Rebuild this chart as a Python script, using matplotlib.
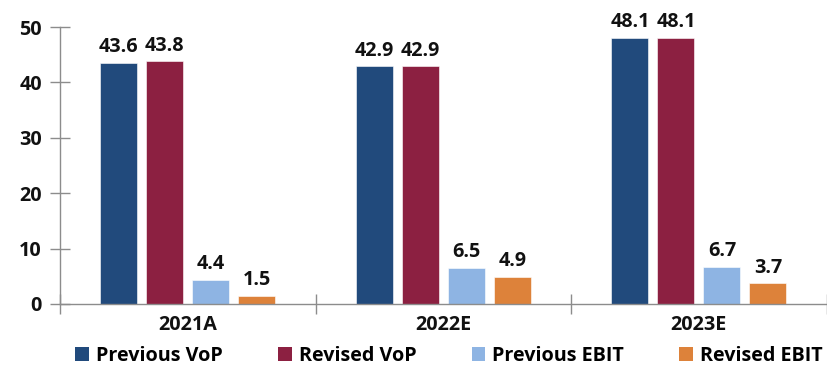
import matplotlib
matplotlib.use("Agg")
import matplotlib.pyplot as plt
import numpy as np
from matplotlib.patches import Patch

categories = ["2021A", "2022E", "2023E"]
series_names = ["Previous VoP", "Revised VoP", "Previous EBIT", "Revised EBIT"]
previous_vop = [43.6, 42.9, 48.1]
revised_vop = [43.8, 42.9, 48.1]
previous_ebit = [4.4, 6.5, 6.7]
revised_ebit = [1.5, 4.9, 3.7]
colors = ["#214A7C", "#8C2041", "#8EB4E3", "#DD823A"]

plt.rcParams["font.family"] = ["Open Sans", "DejaVu Sans"]
plt.rcParams["font.weight"] = "bold"
FS = 14.2

fig = plt.figure(figsize=(8.27, 3.67), dpi=100)
ax = fig.add_axes([0.0726, 0.1717, 0.927, 0.7545])

x = np.arange(len(categories))
width = 0.145
step = 0.18
offsets = (np.arange(4) - 1.5) * step
all_series = [previous_vop, revised_vop, previous_ebit, revised_ebit]

for vals, off, col, name in zip(all_series, offsets, colors, series_names):
    bars = ax.bar(x + off, vals, width, color=col, label=name,
                  edgecolor="white", linewidth=0.4)
    for b, v in zip(bars, vals):
        ax.annotate(f"{v:.1f}", (b.get_x() + b.get_width() / 2, v),
                    xytext=(0, 4), textcoords="offset points",
                    ha="center", va="bottom", fontsize=FS, fontweight="bold",
                    color="#111111")

ax.set_xlim(-0.5, 2.5)
ax.set_ylim(0, 50)
ax.set_yticks([0, 10, 20, 30, 40, 50])
ax.set_xticks([-0.5, 0.5, 1.5, 2.5], minor=False)
ax.set_xticklabels([])
ax.set_xticks(x, minor=True)
ax.set_xticklabels(categories, minor=True)
ax.tick_params(axis="x", which="major", direction="inout", length=14,
               color="#8C8C8C", width=1)
ax.tick_params(axis="x", which="minor", length=0, pad=8, labelsize=FS)
ax.tick_params(axis="y", direction="inout", length=14, color="#8C8C8C",
               width=1, labelsize=FS, pad=6)
for lbl in ax.get_xticklabels(minor=True) + ax.get_yticklabels():
    lbl.set_fontweight("bold")
    lbl.set_color("#111111")

for s in ["top", "right"]:
    ax.spines[s].set_visible(False)
for s in ["left", "bottom"]:
    ax.spines[s].set_color("#8C8C8C")
    ax.spines[s].set_linewidth(1)

handles = [Patch(facecolor=c, edgecolor="none") for c in colors]
fig.legend(handles, series_names, loc="center", bbox_to_anchor=(0.543, 0.03),
           ncol=4, frameon=False, handlelength=0.7,
           handleheight=0.7, handletextpad=0.35, columnspacing=2.8,
           prop={"weight": "bold", "size": FS})

fig.savefig("out.png", dpi=100)
